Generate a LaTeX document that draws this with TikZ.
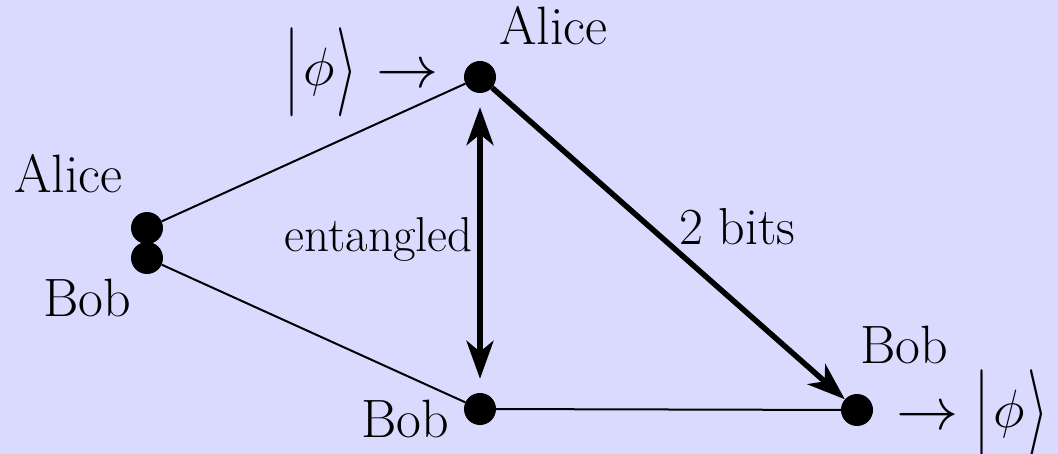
\documentclass[tikz,border=0pt]{standalone}
\usepackage{fix-cm}
\usepackage{graphicx}
\usetikzlibrary{arrows.meta}
\definecolor{bg}{RGB}{218,218,255}
\newcommand{\myket}[1]{\raisebox{-0.16em}{\scalebox{1}[1.65]{$|$}}\kern0.08em$#1$\kern0.04em\raisebox{-0.16em}{\scalebox{1}[1.65]{$\rangle$}}}
\newcommand{\myarr}{\raisebox{-0.02em}{\scalebox{1.15}[1.1]{$\rightarrow$}}}
\begin{document}
\begin{tikzpicture}[x=1pt,y=-1pt,
  dot/.style={circle,fill=black,minimum size=32pt,inner sep=0pt},
  lbl/.style={font=\fontsize{54}{62}\selectfont,inner sep=0pt,anchor=base west},
  conn/.style={line width=2pt},
  heavy/.style={line width=5.5pt},
  >={Stealth[length=38pt,width=27pt,inset=11pt]}]
\fill[bg] (0,0) rectangle (1058,454);
\useasboundingbox (0,0) rectangle (1058,454);
% dots
\node[dot] (aliceT) at (480,77) {};
\node[dot] (aliceL) at (147,228) {};
\node[dot] (bobL) at (147,258) {};
\node[dot] (bobB) at (480,409) {};
\node[dot] (bobR) at (857,410) {};
% labels
\node[lbl] (tA) at (499,45) {Alice};
\node[lbl] (lA) at (14,193) {Alice};
\node[lbl] (lB) at (43,317) {Bob};
\node[lbl] (bB) at (361,437) {Bob};
\node[lbl] (rB) at (860,363) {Bob};
\node[lbl,anchor=base east,font=\fontsize{49}{58}\selectfont] (ent) at (473,252) {entangled};
\node[lbl,font=\fontsize{52}{60}\selectfont] (bits) at (679,245) {2 bits};
\node[lbl] (ketL) at (284,86) {\myket{\phi}\kern0.35em\myarr};
\node[lbl] (ketR) at (896,428) {\myarr\kern0.3em\myket{\phi}};
% connectors
\draw[conn] (aliceL) -- (aliceT);
\draw[conn] (bobL) -- (bobB);
\draw[conn] (bobB) -- (bobR);
\draw[heavy,->] (aliceT) -- (bobR);
\draw[heavy,<->,shorten <=14pt,shorten >=14pt] (aliceT) -- (bobB);
\end{tikzpicture}
\end{document}
